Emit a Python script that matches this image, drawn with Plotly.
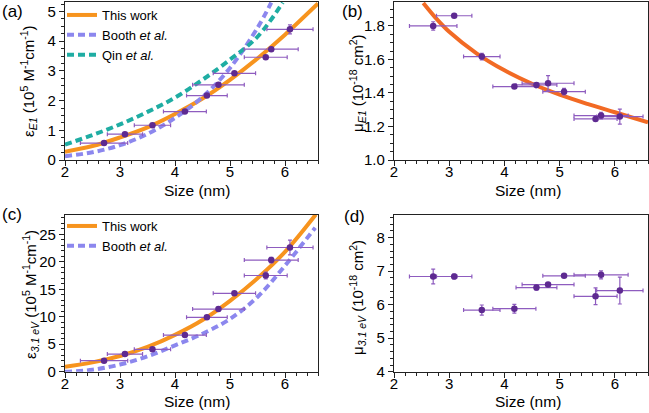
import plotly.graph_objects as go

## MEASURED POINTS (same samples in all four panels)
size_nm = [2.71, 3.09, 3.59, 4.18, 4.58, 4.79, 5.08, 5.65, 5.75, 6.09]
size_err = [0.43, 0.32, 0.33, 0.39, 0.37, 0.47, 0.385, 0.39, 0.49, 0.42]

eps_e1 = [0.57, 0.87, 1.17, 1.63, 2.17, 2.53, 2.92, 3.46, 3.73, 4.40]
eps_e1_err = [0.03, 0.03, 0.03, 0.03, 0.04, 0.05, 0.05, 0.05, 0.06, 0.15]

mu_e1 = [1.80, 1.861, 1.617, 1.438, 1.448, 1.458, 1.408, 1.245, 1.265, 1.259]
mu_e1_err = [0.025, 0.01, 0.02, 0.01, 0.01, 0.045, 0.02, 0.01, 0.02, 0.045]

eps_31 = [2.0, 3.2, 4.07, 6.67, 9.9, 11.4, 14.25, 17.5, 20.3, 22.6]
eps_31_err = [0.2, 0.2, 0.2, 0.2, 0.3, 0.3, 0.3, 0.6, 0.5, 1.35]

mu_31 = [6.84, 6.84, 5.84, 5.88, 6.51, 6.60, 6.86, 6.25, 6.89, 6.42]
mu_31_err = [0.22, 0.07, 0.15, 0.13, 0.08, 0.06, 0.03, 0.25, 0.12, 0.4]

## CURVES
fitA_x = [2.0, 2.5, 3.0, 3.5, 4.0, 4.5, 5.0, 5.5, 6.0, 6.6]
fitA_y = [0.28, 0.47, 0.76, 1.10, 1.55, 2.07, 2.70, 3.42, 4.22, 5.27]
boothA_x = [2.0, 2.5, 3.0, 3.5, 4.0, 4.5, 5.0, 5.5, 5.75]
boothA_y = [0.13, 0.26, 0.50, 0.88, 1.42, 2.12, 3.10, 4.45, 5.30]
qinA_x = [2.0, 2.5, 3.0, 3.5, 4.0, 4.5, 5.0, 5.5, 5.96]
qinA_y = [0.52, 0.84, 1.20, 1.62, 2.10, 2.70, 3.38, 4.15, 5.30]

fitB_x = [2.53, 2.75, 3.0, 3.5, 4.0, 4.5, 5.0, 5.5, 6.0, 6.6]
fitB_y = [1.937, 1.85, 1.765, 1.635, 1.535, 1.455, 1.39, 1.335, 1.285, 1.225]

fitC_x = [2.0, 2.5, 3.0, 3.5, 4.0, 4.5, 5.0, 5.5, 6.0, 6.56]
fitC_y = [0.9, 1.7, 2.85, 4.5, 6.7, 9.4, 12.9, 17.0, 21.8, 28.6]
boothC_x = [2.0, 2.5, 3.0, 3.5, 4.0, 4.5, 5.0, 5.5, 6.0, 6.55]
boothC_y = [0.0, 0.35, 1.3, 2.8, 4.8, 6.9, 9.6, 13.6, 19.3, 26.2]

## TEXT
x_title = 'Size (nm)'
y_titles = [
    'ε<sub><i>E1</i></sub> (10<sup>5</sup> M<sup>-1</sup>cm<sup>-1</sup>)',
    'μ<sub><i>E1</i></sub> (10<sup>-18</sup> cm<sup>2</sup>)',
    'ε<sub><i>3.1 eV</i></sub> (10<sup>5</sup> M<sup>-1</sup>cm<sup>-1</sup>)',
    'μ<sub><i>3.1 eV</i></sub> (10<sup>-18</sup> cm<sup>2</sup>)',
]
panel_labels = ['(a)', '(b)', '(c)', '(d)']

## STYLES
ORANGE = '#F7941E'
ORANGE_B = '#F26A24'
BLUE = '#8C87EE'
TEAL = '#1FADA3'
PT = '#5E2A91'
ERR = '#8E5CBF'
FONT = 'Liberation Sans, Arial, sans-serif'
W, H = 649, 413

fig = go.Figure()


def add_points(y, yerr, xa, ya):
    fig.add_trace(go.Scatter(
        x=size_nm, y=y, mode='markers', xaxis=xa, yaxis=ya, showlegend=False,
        marker=dict(color=PT, size=6.5),
        error_x=dict(type='data', array=size_err, color=ERR, thickness=1.2, width=2),
        error_y=dict(type='data', array=yerr, color=ERR, thickness=1.2, width=2)))


def add_line(x, y, xa, ya, name, color, dash, legend=None, show=False):
    fig.add_trace(go.Scatter(
        x=x, y=y, mode='lines', xaxis=xa, yaxis=ya, name=name,
        showlegend=show, legend=legend,
        line=dict(color=color, width=4, dash=dash, shape='spline')))


# (a)
add_line(fitA_x, fitA_y, 'x', 'y', 'This work', ORANGE, 'solid', 'legend', True)
add_line(boothA_x, boothA_y, 'x', 'y', 'Booth <i>et al.</i>', BLUE, '7px,4px', 'legend', True)
add_line(qinA_x, qinA_y, 'x', 'y', 'Qin <i>et al.</i>', TEAL, '7px,4px', 'legend', True)
add_points(eps_e1, eps_e1_err, 'x', 'y')

# (b)
add_line(fitB_x, fitB_y, 'x2', 'y2', 'fit', ORANGE_B, 'solid')
add_points(mu_e1, mu_e1_err, 'x2', 'y2')

# (c)
add_line(fitC_x, fitC_y, 'x3', 'y3', 'This work', ORANGE, 'solid', 'legend2', True)
add_line(boothC_x, boothC_y, 'x3', 'y3', 'Booth <i>et al.</i>', BLUE, '7px,4px', 'legend2', True)
add_points(eps_31, eps_31_err, 'x3', 'y3')

# (d)
add_points(mu_31, mu_31_err, 'x4', 'y4')

LEFT = [65 / W, 318 / W]
RIGHT = [394 / W, 648 / W]
TOP = [1 - 160 / H, 1 - 2 / H]
BOT = [1 - 371.7 / H, 1 - 214.5 / H]


def xax(dom, anchor):
    return dict(domain=dom, anchor=anchor, range=[2, 6.6], dtick=1, tick0=2, automargin=False,
                showline=True, linecolor='#222', linewidth=1.2, mirror=True,
                ticks='outside', ticklen=5, tickcolor='#222', showgrid=False, zeroline=False,
                minor=dict(dtick=0.2, ticks='outside', ticklen=3, tickcolor='#222'),
                ticklabelstandoff=-7,
                tickfont=dict(size=15, color='black'))


def yax(dom, anchor, rng, dt, mdt, fmt=None):
    d = dict(domain=dom, anchor=anchor, range=rng, dtick=dt, automargin=False,
             showline=True, linecolor='#222', linewidth=1.2, mirror=True,
             ticks='outside', ticklen=5, tickcolor='#222', showgrid=False, zeroline=False,
             minor=dict(dtick=mdt, ticks='outside', ticklen=3, tickcolor='#222'),
             tickfont=dict(size=15, color='black'))
    if fmt:
        d['tickformat'] = fmt
    return d


fig.update_layout(
    width=W, height=H,
    margin=dict(l=0, r=0, t=0, b=0),
    paper_bgcolor='white', plot_bgcolor='white',
    font=dict(family=FONT, color='black'),
    xaxis=xax(LEFT, 'y'),
    yaxis=yax(TOP, 'x', [0, 5.32], 1, 0.25),
    xaxis2=xax(RIGHT, 'y2'),
    yaxis2=yax(TOP, 'x2', [1.0, 1.943], 0.2, 0.05, '.1f'),
    xaxis3=xax(LEFT, 'y3'),
    yaxis3=yax(BOT, 'x3', [0, 28.6], 5, 1),
    xaxis4=xax(RIGHT, 'y4'),
    yaxis4=yax(BOT, 'x4', [4, 8.69], 1, 0.2),
    legend=dict(x=62 / W, y=1.0, xanchor='left', yanchor='top',
                bgcolor='rgba(0,0,0,0)', font=dict(size=13), itemwidth=30),
    legend2=dict(x=62 / W, y=1 - 211 / H, xanchor='left', yanchor='top',
                 bgcolor='rgba(0,0,0,0)', font=dict(size=13), itemwidth=30),
)

### AXIS TITLES AND PANEL LABELS (pixel positions from the reference)
for px, py in [(197, 190), (528, 190), (197, 401), (528, 401)]:
    fig.add_annotation(text=x_title, x=px / W, y=1 - py / H, xref='paper', yref='paper',
                       xanchor='center', yanchor='middle',
                       showarrow=False, font=dict(size=15.5, color='black'))

for txt, px, py in zip(y_titles, [28, 357, 30, 357], [81, 83, 295, 298]):
    fig.add_annotation(text=txt, x=px / W, y=1 - py / H, xref='paper', yref='paper',
                       xanchor='center', yanchor='middle',
                       textangle=-90, showarrow=False, font=dict(size=15, color='black'))

for lab, px, py in zip(panel_labels, [0, 340, 0, 342], [0, 0, 203, 205]):
    fig.add_annotation(text=lab, x=px / W, y=1 - py / H, xref='paper', yref='paper',
                       xanchor='left', yanchor='top', showarrow=False,
                       font=dict(size=17, color='black'))

# page body has an 8px default margin; drop it so the figure sits at the corner
fig.write_html("out.html", config={'displayModeBar': False},
               post_script="document.body.style.margin='0';")
